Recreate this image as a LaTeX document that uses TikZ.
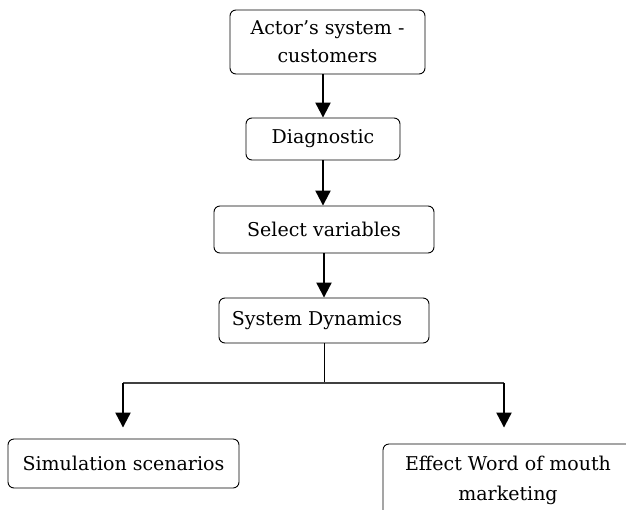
\documentclass[tikz,border=0pt]{standalone}
\usepackage{fontspec}
\setmainfont{DejaVu Serif}
\usetikzlibrary{arrows.meta}

\begin{document}
\begin{tikzpicture}[x=1pt, y=-1pt,
    block/.style={rectangle, rounded corners=6pt, draw, line width=0.9pt, align=center,
                  inner sep=0pt, font=\fontsize{19}{28}\selectfont},
    flow/.style={line width=2.2pt, -{Triangle[width=15pt,length=15pt]}},
    branch/.style={line width=1.3pt, black!75}]

% frame of the picture
\clip (0,0) rectangle (626,509);

% Here are the boxes
\node[block, minimum width=195pt, minimum height=64pt] (actor) at (327.5,42) {Actor’s system -\\customers};
\node[block, minimum width=154pt, minimum height=42pt] (diag) at (323,139) {Diagnostic};
\node[block, minimum width=220pt, minimum height=47pt] (select) at (324,229.5) {Select variables};
\node[block, minimum width=210pt, minimum height=45pt] (sysdyn) at (324,320.5) {System Dynamics\hspace{14pt}};
\node[block, minimum width=231pt, minimum height=49pt] (sim) at (123.5,463.5) {Simulation scenarios};
\node[block, minimum width=250pt, minimum height=72pt, font=\fontsize{19}{30}\selectfont] (effect) at (508,480) {Effect Word of mouth\\marketing};

% and the split below System Dynamics
\coordinate (split) at (324,383);
\coordinate (leftturn) at (123,383);
\coordinate (rightturn) at (504,383);

% arrows down the chain
\draw[flow] (actor.south -| diag.north) -- (diag.north);
\draw[flow] (diag.south) -- (select.north -| diag.south);
\draw[flow] (select.south) -- (sysdyn.north);

\draw[line width=1pt] (sysdyn.south) -- (split);
\draw[branch] (leftturn) -- (rightturn);
\draw[flow] (leftturn) -- ([yshift=11pt]sim.north -| leftturn);
\draw[flow] (rightturn) -- ([yshift=16pt]effect.north -| rightturn);
\end{tikzpicture}
\end{document}
